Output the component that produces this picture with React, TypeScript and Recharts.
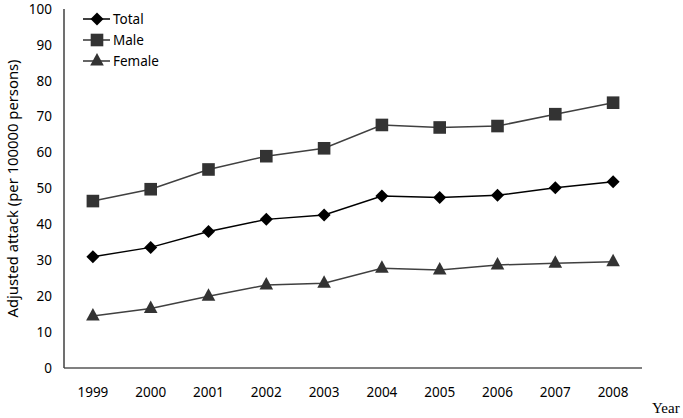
import { LineChart, Line, XAxis, YAxis, Legend, Label } from "recharts";

const years = ["1999", "2000", "2001", "2002", "2003", "2004", "2005", "2006", "2007", "2008"];
const total = [31.0, 33.6, 38.0, 41.4, 42.6, 47.9, 47.5, 48.1, 50.2, 51.9];
const male = [46.5, 49.8, 55.3, 59.0, 61.2, 67.7, 67.0, 67.4, 70.7, 73.9];
const female = [14.5, 16.6, 20.0, 23.1, 23.6, 27.8, 27.3, 28.7, 29.2, 29.6];
const yTicks = [0, 10, 20, 30, 40, 50, 60, 70, 80, 90, 100];

const data = years.map((year, i) => ({
  year,
  total: total[i],
  male: male[i],
  female: female[i],
}));

const FONT = "'Noto Sans', sans-serif";

// marker shapes
const Diamond = ({ cx, cy, fill }: any) => (
  <path d={`M${cx},${cy - 6.5} L${cx + 6.5},${cy} L${cx},${cy + 6.5} L${cx - 6.5},${cy} Z`} fill={fill} />
);
const Square = ({ cx, cy, fill }: any) => (
  <rect x={cx - 6.3} y={cy - 6.3} width={12.6} height={12.6} fill={fill} />
);
const Triangle = ({ cx, cy, fill }: any) => (
  <path d={`M${cx},${cy - 8} L${cx + 6.8},${cy + 4.5} L${cx - 6.8},${cy + 4.5} Z`} fill={fill} />
);

const legendItems = [
  { name: "Total", color: "#000000", Shape: Diamond },
  { name: "Male", color: "#333333", Shape: Square },
  { name: "Female", color: "#333333", Shape: Triangle },
];

const renderLegend = () => (
  <svg width={100} height={60} style={{ display: "block" }}>
    {legendItems.map((item, i) => {
      const y = 9 + i * 21;
      return (
        <g key={item.name}>
          <line x1={0} x2={27} y1={y} y2={y} stroke={item.color} strokeWidth={1.5} />
          <item.Shape cx={14} cy={y} fill={item.color} />
          <text x={30} y={y} dy="0.36em" fontSize={13.5} fontFamily={FONT} fill="#000">
            {item.name}
          </text>
        </g>
      );
    })}
  </svg>
);

const renderYear = (props: any) => {
  const { x, y, width } = props.viewBox;
  return (
    <text x={x + width + 10} y={y + 45} fontSize={15} fontFamily="'Liberation Serif', serif" fill="#000">
      Year
    </text>
  );
};

export default function App() {
  return (
    <div style={{ position: "absolute", left: 0, top: 0, background: "#fff" }}>
      <LineChart width={683} height={418} data={data} margin={{ top: 9, right: 41, bottom: 20, left: 0 }}>
        <XAxis
          dataKey="year"
          scale="band"
          height={30}
          axisLine={{ stroke: "#808080", strokeWidth: 2 }}
          tickLine={false}
          tickSize={0}
          tickMargin={19}
          interval={0}
          tick={{ fontSize: 13.5, fontFamily: FONT, fill: "#000" }}
        >
          <Label content={renderYear} />
        </XAxis>
        <YAxis
          width={64}
          domain={[0, 100]}
          ticks={yTicks}
          interval={0}
          axisLine={{ stroke: "#404040", strokeWidth: 1.5 }}
          tickLine={false}
          tickSize={0}
          tickMargin={12}
          tick={{ fontSize: 13.5, fontFamily: FONT, fill: "#000" }}
        >
          <Label
            value="Adjusted attack (per 100000 persons)"
            angle={-90}
            position="insideLeft"
            offset={13}
            style={{ textAnchor: "middle", fontSize: 14.8, fontFamily: FONT, fill: "#000" }}
          />
        </YAxis>
        <Legend
          content={renderLegend}
          layout="horizontal"
          verticalAlign="middle"
          align="center"
          wrapperStyle={{ left: 83, top: 10, width: 100, height: 60 }}
        />
        <Line
          dataKey="total"
          name="Total"
          stroke="#000000"
          strokeWidth={1.5}
          dot={<Diamond fill="#000000" />}
          activeDot={false}
          isAnimationActive={false}
        />
        <Line
          dataKey="male"
          name="Male"
          stroke="#404040"
          strokeWidth={1.5}
          dot={<Square fill="#333333" />}
          activeDot={false}
          isAnimationActive={false}
        />
        <Line
          dataKey="female"
          name="Female"
          stroke="#404040"
          strokeWidth={1.5}
          dot={<Triangle fill="#333333" />}
          activeDot={false}
          isAnimationActive={false}
        />
      </LineChart>
    </div>
  );
}
